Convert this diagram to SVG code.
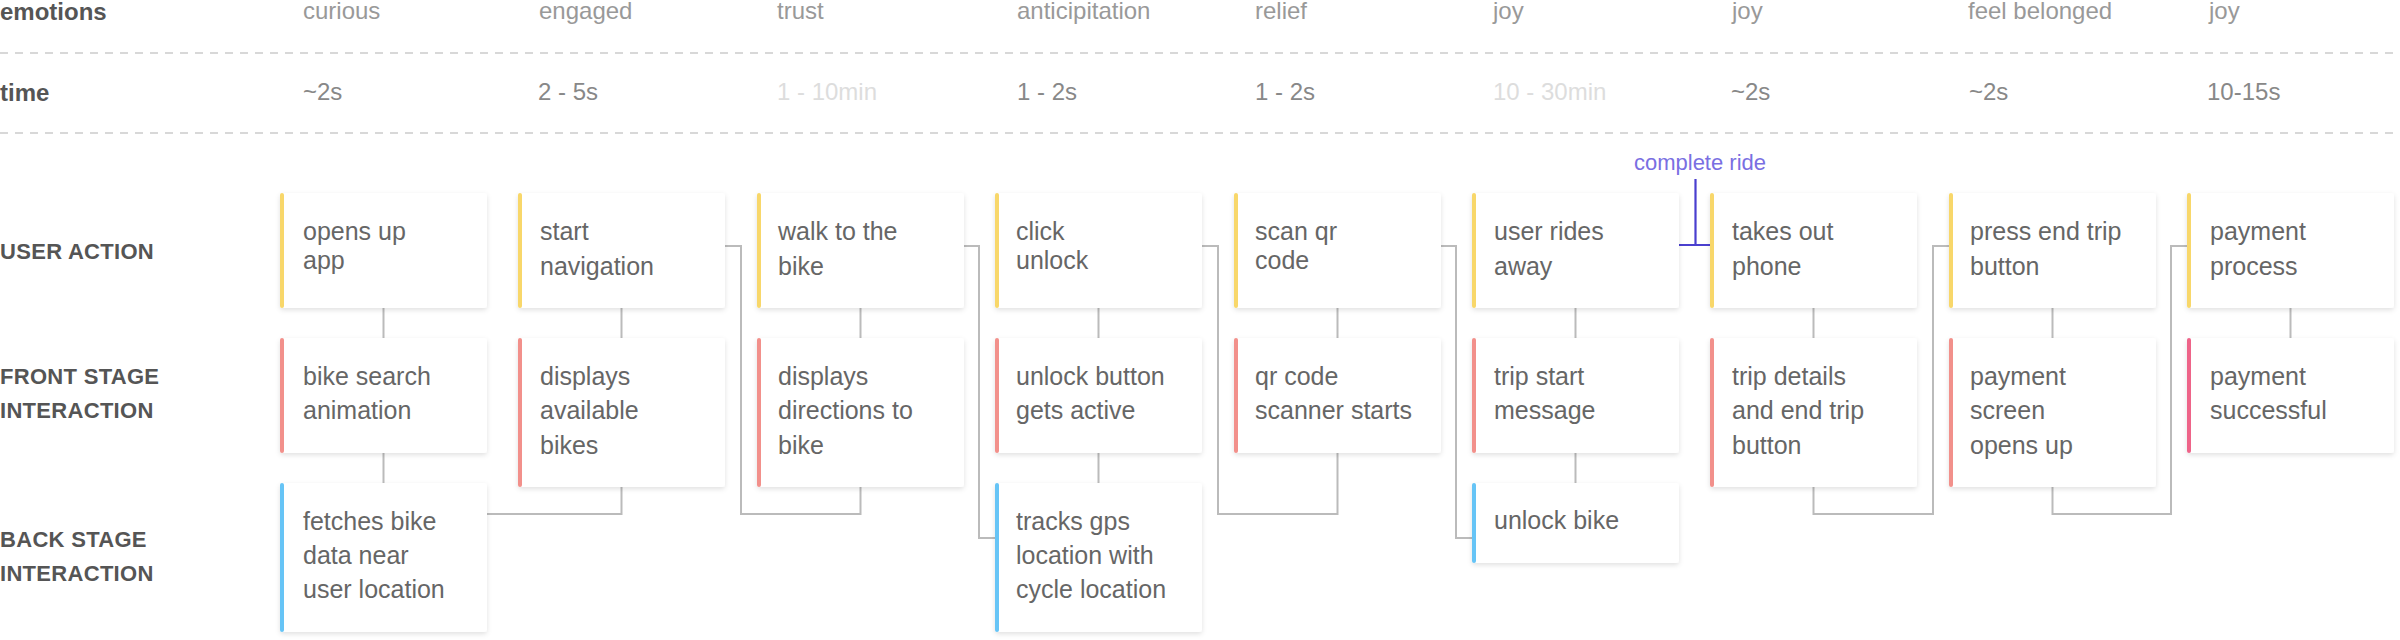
<svg xmlns="http://www.w3.org/2000/svg" width="2400" height="640" viewBox="0 0 2400 640">
<defs>
<filter id="sh" x="-10%" y="-10%" width="120%" height="125%">
<feDropShadow dx="0" dy="2" stdDeviation="2.5" flood-color="#000" flood-opacity="0.12"/>
</filter>
</defs>
<style>
text{font-family:"Liberation Sans",Arial,Helvetica,sans-serif}
.hd{font-size:24px;font-weight:bold;fill:#555}
.rl{font-size:22px;font-weight:bold;fill:#555;letter-spacing:0.3px}
.em{font-size:24px;fill:#999}
.tm{font-size:24px;fill:#888}
.tl{font-size:24px;fill:#ddd}
.dash{stroke:#ccc;stroke-width:1.5;stroke-dasharray:8 7;fill:none}
.box{fill:#fff;filter:url(#sh)}
.bt{font-size:25px;fill:#666}
.y{fill:#F8D76A}
.r{fill:#F2908B}
.b{fill:#66C4F6}
.p{fill:#EE6489}
.cn{stroke:#bbb;stroke-width:2;fill:none}
.cr{stroke:#4A3FCF;stroke-width:2.2;fill:none}
.crt{font-size:22px;fill:#7A6FE2}
</style>
<rect width="2400" height="640" fill="#fff"/>
<g id="header">
<text class="hd" x="0" y="20">emotions</text>
<text class="hd" x="0" y="101">time</text>
<line class="dash" x1="0" y1="53" x2="2400" y2="53"/>
<line class="dash" x1="0" y1="133" x2="2400" y2="133"/>
<text class="em" x="303" y="19">curious</text>
<text class="em" x="539" y="19">engaged</text>
<text class="em" x="777" y="19">trust</text>
<text class="em" x="1017" y="19">anticipitation</text>
<text class="em" x="1255" y="19">relief</text>
<text class="em" x="1493" y="19">joy</text>
<text class="em" x="1732" y="19">joy</text>
<text class="em" x="1968" y="19">feel belonged</text>
<text class="em" x="2209" y="19">joy</text>
<text class="tm" x="303" y="100">~2s</text>
<text class="tm" x="538" y="100">2 - 5s</text>
<text class="tl" x="777" y="100">1 - 10min</text>
<text class="tm" x="1017" y="100">1 - 2s</text>
<text class="tm" x="1255" y="100">1 - 2s</text>
<text class="tl" x="1493" y="100">10 - 30min</text>
<text class="tm" x="1731" y="100">~2s</text>
<text class="tm" x="1969" y="100">~2s</text>
<text class="tm" x="2207" y="100">10-15s</text>
</g>
<g id="row-labels">
<text class="rl" x="0" y="259">USER ACTION</text>
<text class="rl" x="0" y="384">FRONT STAGE</text>
<text class="rl" x="0" y="418">INTERACTION</text>
<text class="rl" x="0" y="547">BACK STAGE</text>
<text class="rl" x="0" y="581">INTERACTION</text>
</g>
<g id="connectors">
<path class="cn" d="M383.5 308V338M383.5 453V483"/>
<path class="cn" d="M621.5 308V338M621.5 487V514H487"/>
<path class="cn" d="M725 246H741V514H860.5V487"/>
<path class="cn" d="M860.5 308V338"/>
<path class="cn" d="M964 246H979V538H995"/>
<path class="cn" d="M1098.5 308V338M1098.5 453V483"/>
<path class="cn" d="M1202 246H1218V514H1337.5V453"/>
<path class="cn" d="M1337.5 308V338"/>
<path class="cn" d="M1441 246H1456V538H1472"/>
<path class="cn" d="M1575.5 308V338M1575.5 453V483"/>
<path class="cn" d="M1813.5 308V338M1813.5 487V514H1933V246H1949"/>
<path class="cn" d="M2052.5 308V338M2052.5 487V514H2171V246H2187"/>
<path class="cn" d="M2290.5 308V338"/>
<path class="cr" d="M1679 245H1710M1695.5 179V245"/>
<text class="crt" x="1700" y="170" text-anchor="middle">complete ride</text>
</g>
<g id="n-opens-up-app"><rect class="box" x="280" y="193" width="207" height="115" rx="3"/><rect class="y" x="280" y="193" width="4" height="115" rx="2"/><text class="bt" x="303" y="240">opens up</text><text class="bt" x="303" y="269">app</text></g>
<g id="n-bike-search"><rect class="box" x="280" y="338" width="207" height="115" rx="3"/><rect class="r" x="280" y="338" width="4" height="115" rx="2"/><text class="bt" x="303" y="385">bike search</text><text class="bt" x="303" y="419">animation</text></g>
<g id="n-fetches"><rect class="box" x="280" y="483" width="207" height="149" rx="3"/><rect class="b" x="280" y="483" width="4" height="149" rx="2"/><text class="bt" x="303" y="530">fetches bike</text><text class="bt" x="303" y="564">data near</text><text class="bt" x="303" y="598">user location</text></g>
<g id="n-start-nav"><rect class="box" x="518" y="193" width="207" height="115" rx="3"/><rect class="y" x="518" y="193" width="4" height="115" rx="2"/><text class="bt" x="540" y="240">start</text><text class="bt" x="540" y="275">navigation</text></g>
<g id="n-displays-bikes"><rect class="box" x="518" y="338" width="207" height="149" rx="3"/><rect class="r" x="518" y="338" width="4" height="149" rx="2"/><text class="bt" x="540" y="385">displays</text><text class="bt" x="540" y="419">available</text><text class="bt" x="540" y="454">bikes</text></g>
<g id="n-walk"><rect class="box" x="757" y="193" width="207" height="115" rx="3"/><rect class="y" x="757" y="193" width="4" height="115" rx="2"/><text class="bt" x="778" y="240">walk to the</text><text class="bt" x="778" y="275">bike</text></g>
<g id="n-directions"><rect class="box" x="757" y="338" width="207" height="149" rx="3"/><rect class="r" x="757" y="338" width="4" height="149" rx="2"/><text class="bt" x="778" y="385">displays</text><text class="bt" x="778" y="419">directions to</text><text class="bt" x="778" y="454">bike</text></g>
<g id="n-click-unlock"><rect class="box" x="995" y="193" width="207" height="115" rx="3"/><rect class="y" x="995" y="193" width="4" height="115" rx="2"/><text class="bt" x="1016" y="240">click</text><text class="bt" x="1016" y="269">unlock</text></g>
<g id="n-unlock-button"><rect class="box" x="995" y="338" width="207" height="115" rx="3"/><rect class="r" x="995" y="338" width="4" height="115" rx="2"/><text class="bt" x="1016" y="385">unlock button</text><text class="bt" x="1016" y="419">gets active</text></g>
<g id="n-tracks-gps"><rect class="box" x="995" y="483" width="207" height="149" rx="3"/><rect class="b" x="995" y="483" width="4" height="149" rx="2"/><text class="bt" x="1016" y="530">tracks gps</text><text class="bt" x="1016" y="564">location with</text><text class="bt" x="1016" y="598">cycle location</text></g>
<g id="n-scan-qr"><rect class="box" x="1234" y="193" width="207" height="115" rx="3"/><rect class="y" x="1234" y="193" width="4" height="115" rx="2"/><text class="bt" x="1255" y="240">scan qr</text><text class="bt" x="1255" y="269">code</text></g>
<g id="n-qr-scanner"><rect class="box" x="1234" y="338" width="207" height="115" rx="3"/><rect class="r" x="1234" y="338" width="4" height="115" rx="2"/><text class="bt" x="1255" y="385">qr code</text><text class="bt" x="1255" y="419">scanner starts</text></g>
<g id="n-user-rides"><rect class="box" x="1472" y="193" width="207" height="115" rx="3"/><rect class="y" x="1472" y="193" width="4" height="115" rx="2"/><text class="bt" x="1494" y="240">user rides</text><text class="bt" x="1494" y="275">away</text></g>
<g id="n-trip-start"><rect class="box" x="1472" y="338" width="207" height="115" rx="3"/><rect class="r" x="1472" y="338" width="4" height="115" rx="2"/><text class="bt" x="1494" y="385">trip start</text><text class="bt" x="1494" y="419">message</text></g>
<g id="n-unlock-bike"><rect class="box" x="1472" y="483" width="207" height="80" rx="3"/><rect class="b" x="1472" y="483" width="4" height="80" rx="2"/><text class="bt" x="1494" y="529">unlock bike</text></g>
<g id="n-takes-out"><rect class="box" x="1710" y="193" width="207" height="115" rx="3"/><rect class="y" x="1710" y="193" width="4" height="115" rx="2"/><text class="bt" x="1732" y="240">takes out</text><text class="bt" x="1732" y="275">phone</text></g>
<g id="n-trip-details"><rect class="box" x="1710" y="338" width="207" height="149" rx="3"/><rect class="r" x="1710" y="338" width="4" height="149" rx="2"/><text class="bt" x="1732" y="385">trip details</text><text class="bt" x="1732" y="419">and end trip</text><text class="bt" x="1732" y="454">button</text></g>
<g id="n-press-end"><rect class="box" x="1949" y="193" width="207" height="115" rx="3"/><rect class="y" x="1949" y="193" width="4" height="115" rx="2"/><text class="bt" x="1970" y="240">press end trip</text><text class="bt" x="1970" y="275">button</text></g>
<g id="n-payment-screen"><rect class="box" x="1949" y="338" width="207" height="149" rx="3"/><rect class="r" x="1949" y="338" width="4" height="149" rx="2"/><text class="bt" x="1970" y="385">payment</text><text class="bt" x="1970" y="419">screen</text><text class="bt" x="1970" y="454">opens up</text></g>
<g id="n-payment-process"><rect class="box" x="2187" y="193" width="207" height="115" rx="3"/><rect class="y" x="2187" y="193" width="4" height="115" rx="2"/><text class="bt" x="2210" y="240">payment</text><text class="bt" x="2210" y="275">process</text></g>
<g id="n-payment-successful"><rect class="box" x="2187" y="338" width="207" height="115" rx="3"/><rect class="p" x="2187" y="338" width="4" height="115" rx="2"/><text class="bt" x="2210" y="385">payment</text><text class="bt" x="2210" y="419">successful</text></g>
</svg>
